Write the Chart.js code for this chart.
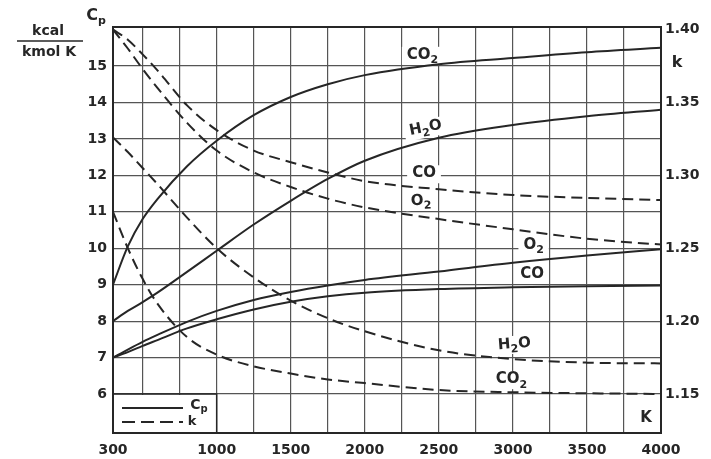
<!DOCTYPE html>
<html>
<head>
<meta charset="utf-8">
<script src="https://cdn.jsdelivr.net/npm/chart.js@4.4.1/dist/chart.umd.min.js"></script>
<style>
  html, body { margin: 0; padding: 0; background: #fff; }
  #wrap { width: 711px; height: 459px; }
</style>
</head>
<body>
<div id="wrap"><canvas id="cpChart"></canvas></div>
<script>
// temperatures (K) the curves were read at
const temps = [300, 400, 500, 600, 800, 1000, 1250, 1500, 1750, 2000, 2500, 3000, 3500, 4000];

// Cp, kcal/(kmol K)  - solid lines, left axis
const cpCO2 = [9.0, 10.05, 10.8, 11.35, 12.25, 12.95, 13.65, 14.15, 14.5, 14.75, 15.05, 15.22, 15.38, 15.5];
const cpH2O = [8.0, 8.28, 8.52, 8.78, 9.35, 9.93, 10.65, 11.3, 11.9, 12.4, 13.03, 13.38, 13.62, 13.8];
const cpO2  = [7.0, 7.22, 7.43, 7.62, 7.98, 8.28, 8.58, 8.8, 8.98, 9.13, 9.36, 9.6, 9.8, 9.97];
const cpCO  = [7.0, 7.15, 7.32, 7.48, 7.8, 8.05, 8.32, 8.53, 8.68, 8.78, 8.88, 8.93, 8.96, 8.98];

// k = cp/cv  - dashed lines, right axis
const kCO  = [1.40, 1.393, 1.383, 1.372, 1.348, 1.331, 1.317, 1.309, 1.302, 1.296, 1.2905, 1.2865, 1.2845, 1.283];
const kO2  = [1.40, 1.387, 1.373, 1.360, 1.336, 1.317, 1.302, 1.292, 1.284, 1.278, 1.270, 1.263, 1.2565, 1.2525];
const kH2O = [1.326, 1.316, 1.305, 1.294, 1.271, 1.250, 1.230, 1.214, 1.202, 1.193, 1.180, 1.174, 1.1715, 1.171];
const kCO2 = [1.275, 1.250, 1.229, 1.212, 1.189, 1.177, 1.169, 1.164, 1.160, 1.1575, 1.1527, 1.1512, 1.1505, 1.150];

// axis ticks
const xTicks = [300, 500, 750, 1000, 1250, 1500, 1750, 2000, 2250, 2500, 2750, 3000, 3250, 3500, 3750, 4000];
const xLabels = [300, 1000, 1500, 2000, 2500, 3000, 3500, 4000];
const cpTicks = [6, 7, 8, 9, 10, 11, 12, 13, 14, 15];
const kTicks = [1.15, 1.20, 1.25, 1.30, 1.35, 1.40];

const ink = '#262626';
const gridInk = '#555';
const tickFont = { family: '"DejaVu Sans"', size: 14, weight: 'bold' };

function pts(vals) {
  return temps.map((t, i) => ({ x: t, y: vals[i] }));
}
function line(vals, axis) {
  return {
    data: pts(vals),
    yAxisID: axis,
    borderColor: ink,
    borderWidth: 2,
    borderDash: axis === 'k' ? [11, 6] : [],
    pointRadius: 0,
    fill: false,
    cubicInterpolationMode: 'monotone'
  };
}

// curve labels, anchored in data units (x = K, y = Cp scale)
const curveLabels = [
  { parts: [{ t: 'CO' }, { t: '2', sub: true }], x: 2390, y: 15.3, a: 0 },
  { parts: [{ t: 'H' }, { t: '2', sub: true }, { t: 'O' }], x: 2410, y: 13.3, a: -0.2 },
  { parts: [{ t: 'CO' }], x: 2400, y: 12.05, a: 0 },
  { parts: [{ t: 'O' }, { t: '2', sub: true }], x: 2380, y: 11.3, a: -0.05 },
  { parts: [{ t: 'O' }, { t: '2', sub: true }], x: 3140, y: 10.09, a: 0 },
  { parts: [{ t: 'CO' }], x: 3130, y: 9.3, a: 0 },
  { parts: [{ t: 'H' }, { t: '2', sub: true }, { t: 'O' }], x: 3010, y: 7.37, a: -0.08 },
  { parts: [{ t: 'CO' }, { t: '2', sub: true }], x: 2990, y: 6.4, a: 0 }
];

function richWidth(ctx, parts, size) {
  let w = 0;
  parts.forEach(p => {
    ctx.font = `bold ${p.sub ? Math.round(size * 0.7) : size}px "DejaVu Sans"`;
    p.w = ctx.measureText(p.t).width;
    w += p.w;
  });
  return w;
}
function drawRich(ctx, parts, cx, cy, size, angle, bg) {
  const w = richWidth(ctx, parts, size);
  ctx.save();
  ctx.translate(cx, cy);
  ctx.rotate(angle || 0);
  if (bg) {
    ctx.fillStyle = '#fff';
    ctx.fillRect(-w / 2 - 5, -size * 0.55, w + 10, size * 1.2);
  } else {
    ctx.fillStyle = ink;
    ctx.textBaseline = 'middle';
    ctx.textAlign = 'left';
    let x = -w / 2;
    parts.forEach(p => {
      ctx.font = `bold ${p.sub ? Math.round(size * 0.7) : size}px "DejaVu Sans"`;
      ctx.fillText(p.t, x, p.sub ? size * 0.35 : 0);
      x += p.w;
    });
  }
  ctx.restore();
}

const decor = {
  id: 'decor',
  beforeDatasetsDraw(chart) {
    const { ctx, chartArea: a, scales } = chart;
    const xs = scales.x, ys = scales.cp;
    ctx.save();
    // legend box area (no grid inside)
    ctx.fillStyle = '#fff';
    ctx.fillRect(a.left, ys.getPixelForValue(6) + 1, xs.getPixelForValue(1000) - a.left - 1, a.bottom - ys.getPixelForValue(6) - 1);
    curveLabels.forEach(l => drawRich(ctx, l.parts, xs.getPixelForValue(l.x), ys.getPixelForValue(l.y), 15, l.a, true));
    ctx.restore();
  },
  afterDatasetsDraw(chart) {
    const { ctx, chartArea: a, scales } = chart;
    const xs = scales.x, ys = scales.cp;
    ctx.save();
    // frame
    ctx.strokeStyle = ink;
    ctx.lineWidth = 2;
    ctx.strokeRect(a.left, a.top, a.right - a.left, a.bottom - a.top);
    // legend box border
    const y6 = ys.getPixelForValue(6), x1000 = xs.getPixelForValue(1000);
    ctx.lineWidth = 1.5;
    ctx.beginPath();
    ctx.moveTo(a.left, y6); ctx.lineTo(x1000, y6); ctx.lineTo(x1000, a.bottom);
    ctx.stroke();
    // legend samples
    ctx.lineWidth = 2.2;
    ctx.beginPath();
    ctx.moveTo(a.left + 9, y6 + 14); ctx.lineTo(a.left + 70, y6 + 14);
    ctx.stroke();
    ctx.setLineDash([13, 6]);
    ctx.beginPath();
    ctx.moveTo(a.left + 9, y6 + 28); ctx.lineTo(a.left + 70, y6 + 28);
    ctx.stroke();
    ctx.setLineDash([]);
    drawRich(ctx, [{ t: 'C' }, { t: 'p', sub: true }], a.left + 86, y6 + 11, 14, 0, false);
    drawRich(ctx, [{ t: 'k' }], a.left + 79, y6 + 28, 13, 0, false);
    // curve labels
    curveLabels.forEach(l => drawRich(ctx, l.parts, xs.getPixelForValue(l.x), ys.getPixelForValue(l.y), 15, l.a, false));
    // axis unit K inside the plot
    drawRich(ctx, [{ t: 'K' }], a.right - 15, a.bottom - 15, 15, 0, false);
    ctx.restore();
  },
  afterDraw(chart) {
    const { ctx, chartArea: a } = chart;
    ctx.save();
    // left axis title
    drawRich(ctx, [{ t: 'C' }, { t: 'p', sub: true }], a.left - 17, 16, 16, 0, false);
    ctx.fillStyle = ink;
    ctx.font = 'bold 14px "DejaVu Sans"';
    ctx.textAlign = 'center';
    ctx.textBaseline = 'middle';
    ctx.fillText('kcal', 48, 31);
    ctx.fillText('kmol K', 49, 52);
    ctx.strokeStyle = ink;
    ctx.lineWidth = 1.5;
    ctx.beginPath();
    ctx.moveTo(17, 41); ctx.lineTo(83, 41);
    ctx.stroke();
    // right axis title
    ctx.font = 'bold 16px "DejaVu Sans"';
    ctx.fillText('k', 677, 63);
    ctx.restore();
  }
};

new Chart(document.getElementById('cpChart'), {
  type: 'line',
  data: {
    datasets: [
      line(cpCO2, 'cp'), line(cpH2O, 'cp'), line(cpO2, 'cp'), line(cpCO, 'cp'),
      line(kCO, 'k'), line(kO2, 'k'), line(kH2O, 'k'), line(kCO2, 'k')
    ]
  },
  options: {
    responsive: true,
    maintainAspectRatio: false,
    animation: false,
    layout: { padding: { top: 27, right: 0, bottom: 0, left: 0 } },
    plugins: { legend: { display: false }, tooltip: { enabled: false } },
    scales: {
      x: {
        type: 'linear',
        min: 300,
        max: 4000,
        afterBuildTicks: s => { s.ticks = xTicks.map(v => ({ value: v })); },
        afterFit: s => { s.height = 26; },
        grid: { color: gridInk, lineWidth: 1.2, drawTicks: false },
        border: { display: false },
        ticks: {
          autoSkip: false,
          maxRotation: 0,
          padding: 9,
          color: ink,
          font: tickFont,
          callback: v => xLabels.includes(v) ? String(v) : ''
        }
      },
      cp: {
        type: 'linear',
        position: 'left',
        min: 4.93,
        max: 16.07,
        afterBuildTicks: s => { s.ticks = cpTicks.map(v => ({ value: v })); },
        afterFit: s => { s.width = 113; },
        grid: { color: gridInk, lineWidth: 1.2, drawTicks: false },
        border: { display: false },
        ticks: { padding: 6, color: ink, font: tickFont, callback: v => String(v) }
      },
      k: {
        type: 'linear',
        position: 'right',
        min: 1.12325,
        max: 1.40175,
        afterBuildTicks: s => { s.ticks = kTicks.map(v => ({ value: v })); },
        afterFit: s => { s.width = 50; },
        grid: { display: false, drawTicks: false },
        border: { display: false },
        ticks: { padding: 4, color: ink, font: tickFont, callback: v => v.toFixed(2) }
      }
    }
  },
  plugins: [decor]
});
</script>
</body>
</html>
